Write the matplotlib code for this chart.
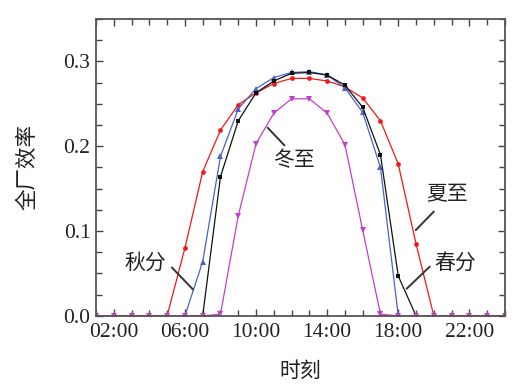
import numpy as np
import matplotlib
matplotlib.use("Agg")
import matplotlib.pyplot as plt
from matplotlib.ticker import MultipleLocator, FixedLocator

plt.rcParams['font.family'] = 'serif'
plt.rcParams['font.serif'] = ['Liberation Serif', 'DejaVu Serif']

# ---- data ----
hours = list(range(1, 25))
tick_hours = [2, 6, 10, 14, 18, 22]
tick_labels = ["02:00", "06:00", "10:00", "14:00", "18:00", "22:00"]

# 夏至 (summer solstice)
summer = [0, 0, 0, 0, 0, 0.080, 0.170, 0.219, 0.249, 0.263, 0.274, 0.280,
          0.280, 0.277, 0.270, 0.257, 0.230, 0.179, 0.085, 0, 0, 0, 0, 0]
# 秋分 (autumn equinox)
autumn = [0, 0, 0, 0, 0, 0, 0.064, 0.188, 0.244, 0.268, 0.281, 0.287,
          0.288, 0.284, 0.269, 0.240, 0.175, 0, 0, 0, 0, 0, 0, 0]
# 春分 (spring equinox)
spring = [0, 0, 0, 0, 0, 0, 0, 0.164, 0.230, 0.263, 0.277, 0.286,
          0.287, 0.284, 0.272, 0.246, 0.190, 0.047, 0, 0, 0, 0, 0, 0]
# 冬至 (winter solstice)
winter = [0, 0, 0, 0, 0, 0, 0, 0.002, 0.118, 0.203, 0.239, 0.256,
          0.256, 0.239, 0.202, 0.101, 0.002, 0, 0, 0, 0, 0, 0, 0]

# label text position and leader line (from, to) in data units
labels = {
    "冬至": ((12.15, 0.184), (10.65, 0.222), (11.6, 0.201)),
    "夏至": ((20.75, 0.143), (18.98, 0.101), (20.0, 0.123)),
    "春分": ((21.2, 0.063), (18.47, 0.032), (19.77, 0.058)),
    "秋分": ((3.75, 0.063), (6.46, 0.031), (5.27, 0.057)),
}

fig = plt.figure(figsize=(5.29, 3.89), dpi=100)
ax = fig.add_axes([0.1815, 0.188, 0.773, 0.763])

ax.plot(hours, summer, '-o', color='#f01818', lw=0.9, ms=3.4, mew=0)
ax.plot(hours, autumn, '-^', color='#4a62c8', lw=0.9, ms=3.7, mew=0)
ax.plot(hours, spring, '-s', color='#111111', lw=0.9, ms=3.4, mew=0)
ax.plot(hours, winter, '-v', color='#c040c8', lw=0.9, ms=3.7, mew=0)

ax.set_xlim(1, 24)
ax.set_ylim(0, 0.35)
ax.xaxis.set_major_locator(FixedLocator(tick_hours))
ax.set_xticklabels(tick_labels)
ax.xaxis.set_minor_locator(MultipleLocator(1))
ax.yaxis.set_major_locator(MultipleLocator(0.1))
ax.yaxis.set_minor_locator(MultipleLocator(0.025))
ax.yaxis.set_major_formatter(plt.FormatStrFormatter('%.1f'))

ax.tick_params(which='both', direction='in', top=True, right=True,
               color='#444444', labelsize=15.5, width=1,
               labelcolor='#222222')
ax.tick_params(which='major', length=5)
ax.tick_params(axis='x', which='major', pad=5)
ax.tick_params(axis='y', which='major', pad=4)
ax.tick_params(which='minor', length=4)
for s in ax.spines.values():
    s.set_color('#555555')
    s.set_linewidth(1.3)

cjk = ['Noto Sans CJK SC', 'DejaVu Sans']
ax.set_xlabel("时刻", family=cjk, fontsize=15, labelpad=13, color='#222222')
ax.set_ylabel("全厂效率", family=cjk, fontsize=15.5, labelpad=18, color='#222222')

for name, (txt, p0, p1) in labels.items():
    ax.annotate("", xy=p0, xytext=p1,
                arrowprops=dict(arrowstyle='-', color='#333333', lw=1.4,
                                shrinkA=0, shrinkB=0))
    ax.text(txt[0], txt[1], name, family=cjk, fontsize=15, ha='center',
            va='center', color='#222222')

fig.savefig("out.png", dpi=100)
